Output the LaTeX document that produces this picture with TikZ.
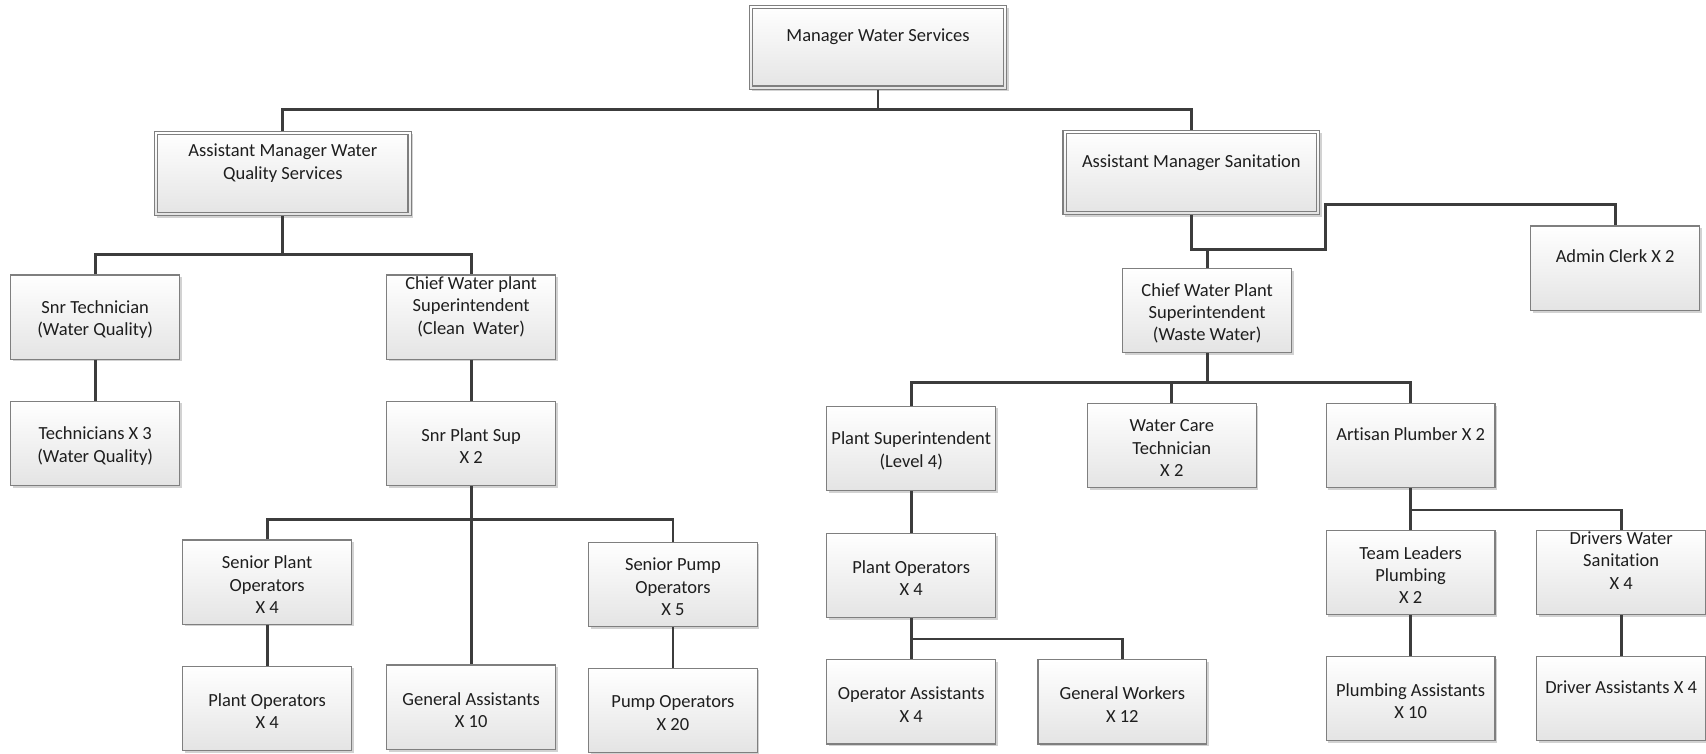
\documentclass[tikz,border=0pt]{standalone}
\usepackage{fontspec}
\setmainfont{Carlito}[Ligatures=NoCommon]
\usetikzlibrary{shadows,calc}

\definecolor{boxline}{HTML}{7F7F7F}
\definecolor{boxfill}{HTML}{E4E4E4}
\definecolor{wire}{HTML}{3C3C3C}
\definecolor{txt}{HTML}{1E1E1E}

% a box node plus its caption, the caption set a little below the centre
\newcommand\orgbox[4][box]{%
  \node[#1] (#2) at (#3) {};
  \node[boxtext] (#2-t) at ([yshift=-2.5pt]#2.center) {#4};}

\begin{document}
\begin{tikzpicture}[x=1pt,y=-1pt,
  box/.style={draw=boxline, line width=1.1pt, top color=white, bottom color=boxfill,
    drop shadow={shadow xshift=2pt, shadow yshift=-2pt, fill=black!35, opacity=0.5},
    minimum width=155pt, minimum height=77.5pt, inner sep=0pt},
  lead/.style={box, minimum width=236pt, minimum height=77pt},
  boxtext/.style={align=center, inner sep=0pt, text=txt,
    font=\fontsize{17}{20.5}\selectfont},
  innerline/.style={draw=boxline, line width=1.1pt},
  conn/.style={draw=wire, line width=2.6pt}]

\useasboundingbox (0,0) rectangle (1568,693);

% top management
\orgbox[lead]{mgr}{807,43.5}{Manager Water Services\\\strut}
\orgbox[lead]{amwq}{260,159.5}{Assistant Manager Water\\Quality Services\\\strut}
\orgbox[lead]{amsan}{1095,158.5}{Assistant Manager Sanitation\\\strut}
\foreach \n in {mgr,amwq,amsan}
  \draw[innerline] ($(\n.north west)+(3.5,3.5)$) rectangle ($(\n.south east)+(-3.5,-3.5)$);

% water quality branch
\orgbox{snrtech}{87.5,291.5}{Snr Technician\\(Water Quality)}
\orgbox{cwpc}{433,291.5}{Chief Water plant\\Superintendent\\(Clean\ \ Water)\\\strut}
\orgbox{techs}{87.5,407.5}{Technicians X 3\\(Water Quality)}
\orgbox{snrps}{433,407.5}{Snr Plant Sup\\X 2}
\orgbox{spo}{245.5,535}{Senior Plant\\Operators\\X 4}
\orgbox{spumpo}{618.5,537}{Senior Pump\\Operators\\X 5}
\orgbox{po}{245.5,651}{Plant Operators\\X 4}
\orgbox{ga}{433,650}{General Assistants\\X 10}
\orgbox{pumpo}{618.5,653}{Pump Operators\\X 20}

% sanitation branch
\orgbox{cwpw}{1109.5,285.5}{Chief Water Plant\\Superintendent\\(Waste Water)}
\orgbox{admin}{1484.5,246.5}{Admin Clerk X 2\\\strut}
\orgbox{psup}{837.5,412}{Plant Superintendent\\(Level 4)}
\orgbox{wct}{1077,409.5}{Water Care\\Technician\\X 2}
\orgbox{artisan}{1296.5,409.5}{Artisan Plumber X 2\\\strut}
\orgbox{po2}{837.5,529}{Plant Operators\\X 4}
\orgbox{opa}{837.5,645}{Operator Assistants\\X 4}
\orgbox{gw}{1031.5,645}{General Workers\\X 12}
\orgbox{tlp}{1296.5,526}{Team Leaders\\Plumbing\\X 2}
\orgbox{dws}{1490,526}{Drivers Water\\Sanitation\\X 4\\\strut}
\orgbox{pa}{1296.5,642}{Plumbing Assistants\\X 10}
\orgbox{da}{1490,642}{Driver Assistants X 4\\\strut}

% reporting lines
\draw[conn] (mgr.south) -- ++(0,18) coordinate (j1);
\draw[conn] (amwq.north) |- (j1) -| (amsan.north);

\draw[conn] (amwq.south) -- ++(0,35) coordinate (j2);
\draw[conn] (snrtech.north) |- (j2) -| (cwpc.north);
\draw[conn] (snrtech.south) -- (techs.north);
\draw[conn] (cwpc.south) -- (snrps.north);

\draw[conn] (snrps.south) -- (ga.north);
\coordinate (j3) at ($(snrps.south)+(0,31)$);
\draw[conn] (spo.north) |- (j3) -| (spumpo.north);
\draw[conn] (spo.south) -- (po.north);
\draw[conn] (spumpo.south) -- (pumpo.north);

\coordinate (sanA) at (1218,229);
\coordinate (sanB) at (1218,188);
\draw[conn] (amsan.south) |- (sanA) -- (sanB) -| (admin.north);
\draw[conn] (cwpw.north) -- (cwpw.north |- sanA);

\draw[conn] (cwpw.south) -- ++(0,27) coordinate (j5);
\draw[conn] (psup.north) |- (j5) -| (artisan.north);
\draw[conn] (wct.north) -- (wct.north |- j5);
\draw[conn] (psup.south) -- (po2.north);

\draw[conn] (po2.south) -- (opa.north);
\coordinate (j6) at ($(po2.south)+(0,19)$);
\draw[conn] (j6) -| (gw.north);

\draw[conn] (artisan.south) -- (tlp.north);
\coordinate (j7) at ($(artisan.south)+(0,20)$);
\draw[conn] (j7) -| (dws.north);
\draw[conn] (tlp.south) -- (pa.north);
\draw[conn] (dws.south) -- (da.north);

\end{tikzpicture}
\end{document}
